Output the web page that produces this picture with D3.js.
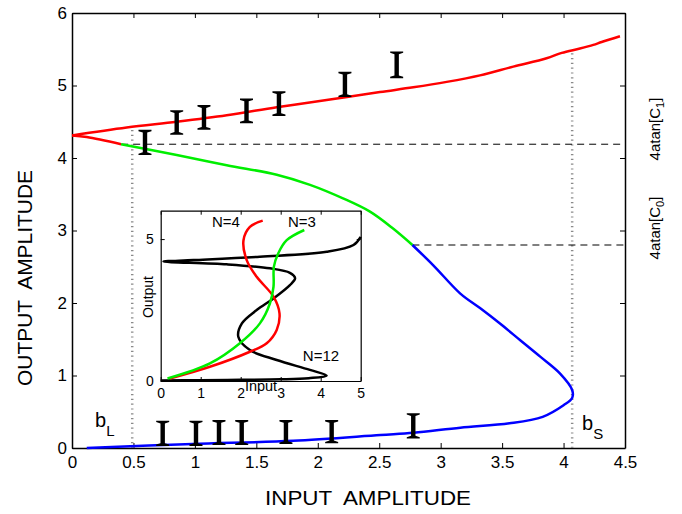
<!DOCTYPE html>
<html><head><meta charset="utf-8">
<script src="https://cdn.jsdelivr.net/npm/d3@7"></script>
<style>
body{margin:0;background:#fff;}
svg{display:block;font-family:"Liberation Sans",Arial,sans-serif;}
text{white-space:pre;}
</style></head>
<body>
<svg id="c" width="682" height="514"></svg>
<script>
// ---------- DATA ----------
const xTicks = [0,0.5,1,1.5,2,2.5,3,3.5,4,4.5];
const yTicks = [0,1,2,3,4,5,6];
const redUpper = [[0,4.31],[0.445,4.42],[0.852,4.50],[1.259,4.59],[1.666,4.70],[2.072,4.80],[2.506,4.91],[2.777,4.975],[3.049,5.05],[3.32,5.14],[3.591,5.26],[3.862,5.375],[3.985,5.45],[4.133,5.51],[4.242,5.56],[4.31,5.60],[4.459,5.68]];
const redLower = [[0,4.31],[0.12,4.29],[0.40,4.19]];
const greenBranch = [[0.40,4.19],[0.852,4.04],[1.259,3.90],[1.666,3.77],[1.937,3.63],[2.21,3.44],[2.425,3.26],[2.61,3.03],[2.77,2.80]];
const blueBranch = [[2.77,2.80],[2.94,2.52],[3.16,2.13],[3.32,1.93],[3.48,1.72],[3.645,1.49],[3.81,1.26],[3.97,1.03],[4.07,0.80],[4.07,0.69],[4.00,0.59],[3.83,0.43],[3.56,0.34],[3.16,0.28],[2.78,0.21],[2.51,0.18],[1.80,0.10],[0.98,0.055],[0.12,0.0]];
const upperErrX  = [0.594,0.852,1.074,1.42,1.684,2.221,2.642];
const upperErrLo = [4.04,4.32,4.39,4.48,4.58,4.84,5.10];
const upperErrHi = [4.39,4.66,4.73,4.82,4.92,5.19,5.47];
const lowerErrX  = [0.738,1.009,1.196,1.381,1.741,2.113,2.777];
const lowerErrLo = [0.028,0.028,0.041,0.041,0.055,0.064,0.13];
const lowerErrHi = [0.377,0.377,0.386,0.386,0.386,0.386,0.48];
const bL = 0.49, bLTop = 4.41;
const bS = 4.07, bSTop = 5.47;
const c1Level = 4.19, c1Start = 0.40;
const c0Level = 2.80, c0Start = 2.77;
// inset
const insetXTicks = [0,1,2,3,4,5];
const insetYTicks = [0,5];
const insetN4 = [[0.23,0.09],[1.23,0.5],[2.23,1.03],[2.65,1.33],[2.9,1.8],[2.97,2.38],[2.82,2.97],[2.4,3.67],[2.15,4.26],[2.07,4.96],[2.23,5.43],[2.55,5.65]];
const insetN3 = [[0.17,0.09],[1.23,0.62],[1.98,1.33],[2.48,2.03],[2.73,2.73],[2.82,3.32],[2.83,4.03],[2.94,4.5],[3.15,4.96],[3.59,5.32]];
const insetN12 = [[0,0.02],[1,0.03],[2,0.04],[3,0.06],[3.7,0.1],[4.15,0.19],[3.73,0.39],[2.9,0.74],[2.23,1.09],[1.94,1.56],[2.03,2.03],[2.4,2.5],[2.82,2.91],[3.23,3.38],[3.36,3.62],[3.23,3.81],[2.73,3.97],[1.65,4.11],[0.07,4.21],[0.82,4.26],[2.48,4.38],[4.15,4.55],[4.82,4.79],[5.0,5.08]];

// ---------- MAIN ----------
const svg = d3.select("#c");
const L=72, R=625, T=13, B=448;
const x = d3.scaleLinear().domain([0,4.5]).range([L,R]);
const y = d3.scaleLinear().domain([0,6]).range([B,T]);

const fmt = d => String(d);
const gx = svg.append("g").attr("transform",`translate(0,${B})`)
  .call(d3.axisBottom(x).tickValues(xTicks).tickFormat(fmt).tickSizeInner(-5).tickSizeOuter(0).tickPadding(8));
const gxt = svg.append("g").attr("transform",`translate(0,${T})`)
  .call(d3.axisTop(x).tickValues(xTicks).tickFormat("").tickSizeInner(-5).tickSizeOuter(0));
const gy = svg.append("g").attr("transform",`translate(${L},0)`)
  .call(d3.axisLeft(y).tickValues(yTicks).tickFormat(fmt).tickSizeInner(-5).tickSizeOuter(0).tickPadding(5));
const gyr = svg.append("g").attr("transform",`translate(${R},0)`)
  .call(d3.axisRight(y).tickValues(yTicks).tickFormat("").tickSizeInner(-5).tickSizeOuter(0));
[gx,gxt,gy,gyr].forEach(g=>{
  g.select(".domain").attr("stroke","#000").attr("stroke-width",1.5);
  g.selectAll(".tick line").attr("stroke","#000");
  g.selectAll(".tick text").attr("font-size",17).attr("fill","#000").attr("font-family","Liberation Sans, Arial, sans-serif");
});

// dotted verticals
svg.append("line").attr("x1",x(bL)).attr("x2",x(bL)).attr("y1",y(0)).attr("y2",y(bLTop))
  .attr("stroke","#8a8a8a").attr("stroke-width",2.5).attr("stroke-dasharray","1.2,3.6");
svg.append("line").attr("x1",x(bS)).attr("x2",x(bS)).attr("y1",y(0)).attr("y2",y(bSTop))
  .attr("stroke","#8a8a8a").attr("stroke-width",2.5).attr("stroke-dasharray","1.2,3.6");
// dashed horizontals
svg.append("line").attr("x1",x(c1Start)).attr("x2",R).attr("y1",y(c1Level)).attr("y2",y(c1Level))
  .attr("stroke","#000").attr("stroke-width",1).attr("stroke-dasharray","7,5");
svg.append("line").attr("x1",x(c0Start)).attr("x2",R).attr("y1",y(c0Level)).attr("y2",y(c0Level))
  .attr("stroke","#000").attr("stroke-width",1).attr("stroke-dasharray","7,5");

const line = d3.line().x(d=>x(d[0])).y(d=>y(d[1])).curve(d3.curveCatmullRom.alpha(0.5));
function drawCurve(data,color){
  svg.append("path").attr("d",line(data)).attr("fill","none").attr("stroke",color).attr("stroke-width",2.5).attr("stroke-linejoin","round");
}
drawCurve(redUpper,"#ff0000");
drawCurve(redLower,"#ff0000");
drawCurve(greenBranch,"#00ee00");
drawCurve(blueBranch,"#0000ff");

// error bars (serif I glyph style)
function errBars(xs,lo,hi){
  const g = svg.append("g").attr("fill","#000");
  xs.forEach((xv,i)=>{
    const cx=x(xv), y1=y(hi[i]), y2=y(lo[i]);
    g.append("path").attr("d",
      `M${cx-6.5},${y1} L${cx+6.5},${y1} L${cx+6.5},${y1+1.4} L${cx+2.2},${y1+2.8} L${cx+2.2},${y2-2.8} L${cx+6.5},${y2-1.4} L${cx+6.5},${y2} L${cx-6.5},${y2} L${cx-6.5},${y2-1.4} L${cx-2.2},${y2-2.8} L${cx-2.2},${y1+2.8} L${cx-6.5},${y1+1.4} Z`);
  });
}
errBars(upperErrX,upperErrLo,upperErrHi);
errBars(lowerErrX,lowerErrLo,lowerErrHi);

// axis titles
svg.append("text").attr("x",368).attr("y",505).attr("text-anchor","middle").attr("font-size",20)
  .attr("textLength",206).attr("lengthAdjust","spacingAndGlyphs").text("INPUT  AMPLITUDE");
svg.append("text").attr("transform","translate(32,278) rotate(-90)").attr("text-anchor","middle").attr("font-size",20)
  .attr("textLength",216).attr("lengthAdjust","spacingAndGlyphs").text("OUTPUT  AMPLITUDE");

// b_L, b_S
function subLabel(px,py,main,sub){
  const t=svg.append("text").attr("x",px).attr("y",py).attr("font-size",20);
  t.append("tspan").text(main);
  t.append("tspan").attr("font-size",15).attr("dy",9).text(sub);
}
subLabel(95,427,"b","L");
subLabel(582,430,"b","S");

// right labels
function rotLabel(px,py,sub){
  const t=svg.append("text").attr("transform",`translate(${px},${py}) rotate(-90)`).attr("text-anchor","middle").attr("font-size",15);
  t.append("tspan").text("4atan[C");
  t.append("tspan").attr("font-size",11).attr("dy",4).text(sub);
  t.append("tspan").attr("dy",-4).text("]");
}
rotLabel(660,129,"1");
rotLabel(660,228,"0");

// ---------- INSET ----------
const iL=160.7, iR=360.7, iT=210.7, iB=381;
const ix = d3.scaleLinear().domain([0,5]).range([iL,iR]);
const iy = d3.scaleLinear().domain([0,6]).range([iB,iT]);
const inset = svg.append("g");
inset.append("rect").attr("x",iL).attr("y",iT).attr("width",iR-iL).attr("height",iB-iT).attr("fill","#fff");
const ixa = inset.append("g").attr("transform",`translate(0,${iB})`)
  .call(d3.axisBottom(ix).tickValues(insetXTicks).tickFormat(fmt).tickSizeInner(-4).tickSizeOuter(0).tickPadding(7));
const ixt = inset.append("g").attr("transform",`translate(0,${iT})`)
  .call(d3.axisTop(ix).tickValues(insetXTicks).tickFormat("").tickSizeInner(-4).tickSizeOuter(0));
const iya = inset.append("g").attr("transform",`translate(${iL},0)`)
  .call(d3.axisLeft(iy).tickValues(insetYTicks).tickFormat(fmt).tickSizeInner(-4).tickSizeOuter(0).tickPadding(7));
const iyr = inset.append("g").attr("transform",`translate(${iR},0)`)
  .call(d3.axisRight(iy).tickValues(insetYTicks).tickFormat("").tickSizeInner(-4).tickSizeOuter(0));
[ixa,ixt,iya,iyr].forEach(g=>{
  g.select(".domain").attr("stroke","#000").attr("stroke-width",1.2);
  g.selectAll(".tick line").attr("stroke","#000");
  g.selectAll(".tick text").attr("font-size",14).attr("fill","#000").attr("font-family","Liberation Sans, Arial, sans-serif");
});
const iline = d3.line().x(d=>ix(d[0])).y(d=>iy(d[1])).curve(d3.curveCatmullRom.alpha(0.5));
inset.append("path").attr("d",iline(insetN12)).attr("fill","none").attr("stroke","#000").attr("stroke-width",2.5);
inset.append("path").attr("d",iline(insetN4)).attr("fill","none").attr("stroke","#ff0000").attr("stroke-width",2.5);
inset.append("path").attr("d",iline(insetN3)).attr("fill","none").attr("stroke","#00ee00").attr("stroke-width",2.5);
inset.append("text").attr("x",226).attr("y",227).attr("text-anchor","middle").attr("font-size",15).text("N=4");
inset.append("text").attr("x",302).attr("y",227).attr("text-anchor","middle").attr("font-size",15).text("N=3");
inset.append("text").attr("x",321).attr("y",361).attr("text-anchor","middle").attr("font-size",15).text("N=12");
inset.append("text").attr("x",261).attr("y",391).attr("text-anchor","middle").attr("font-size",14.5).text("Input");
inset.append("text").attr("transform","translate(153,297) rotate(-90)").attr("text-anchor","middle").attr("font-size",14).text("Output");
</script>
</body></html>
